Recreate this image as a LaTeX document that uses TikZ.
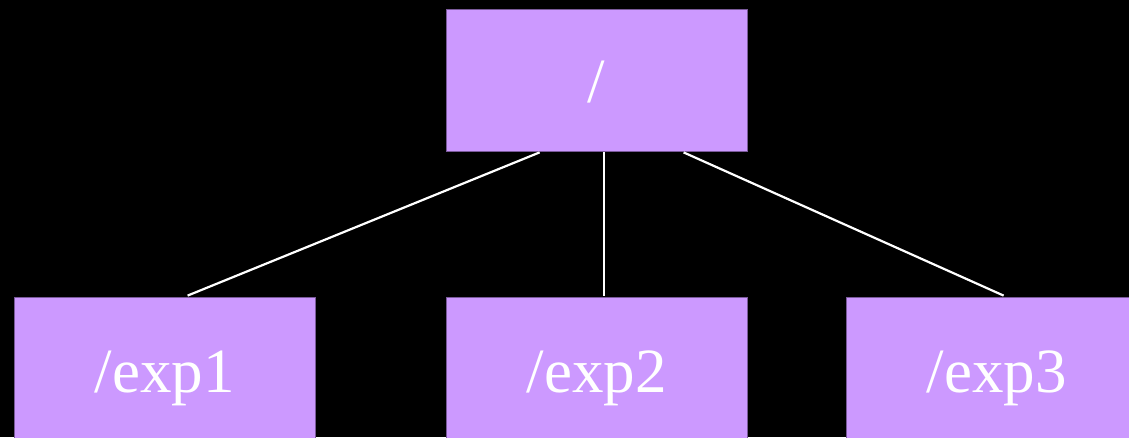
\documentclass[tikz,border=0pt]{standalone}
\usepackage{fontspec}
\setmainfont{Liberation Serif}
\usetikzlibrary{calc}
\definecolor{boxfill}{HTML}{CC99FF}
\definecolor{boxline}{HTML}{7A5A9A}
\tikzset{
  dirbox/.style={rectangle, fill=boxfill, draw=boxline, line width=0.8pt,
    minimum width=301pt, minimum height=142pt, inner sep=0pt,
    text=white, font=\fontsize{63}{70}\selectfont, text depth=0pt},
  link/.style={draw=white, line width=2.2pt}
}
\begin{document}
\begin{tikzpicture}[x=1pt,y=1pt]
\fill[black] (0,0) rectangle (1129,437);
\clip (0,0) rectangle (1129,437);
\useasboundingbox (0,0) rectangle (1129,437);
\node[dirbox, text height=46pt] (root) at (596.5,357) {/};
\node[dirbox, text height=48pt] (e1) at (164.5,69) {/exp1};
\node[dirbox, text height=48pt] (e2) at (596.5,69) {/exp2};
\node[dirbox, text height=48pt] (e3) at (996.5,69) {/exp3};
\draw[link] ($(root.south west)+(94,-1)$) -- ($(e1.north west)+(174,1)$);
\draw[link] ($(root.south west)+(158,-1)$) -- ($(e2.north west)+(158,1)$);
\draw[link] ($(root.south west)+(238,-1)$) -- ($(e3.north west)+(158,1)$);
\end{tikzpicture}
\end{document}
